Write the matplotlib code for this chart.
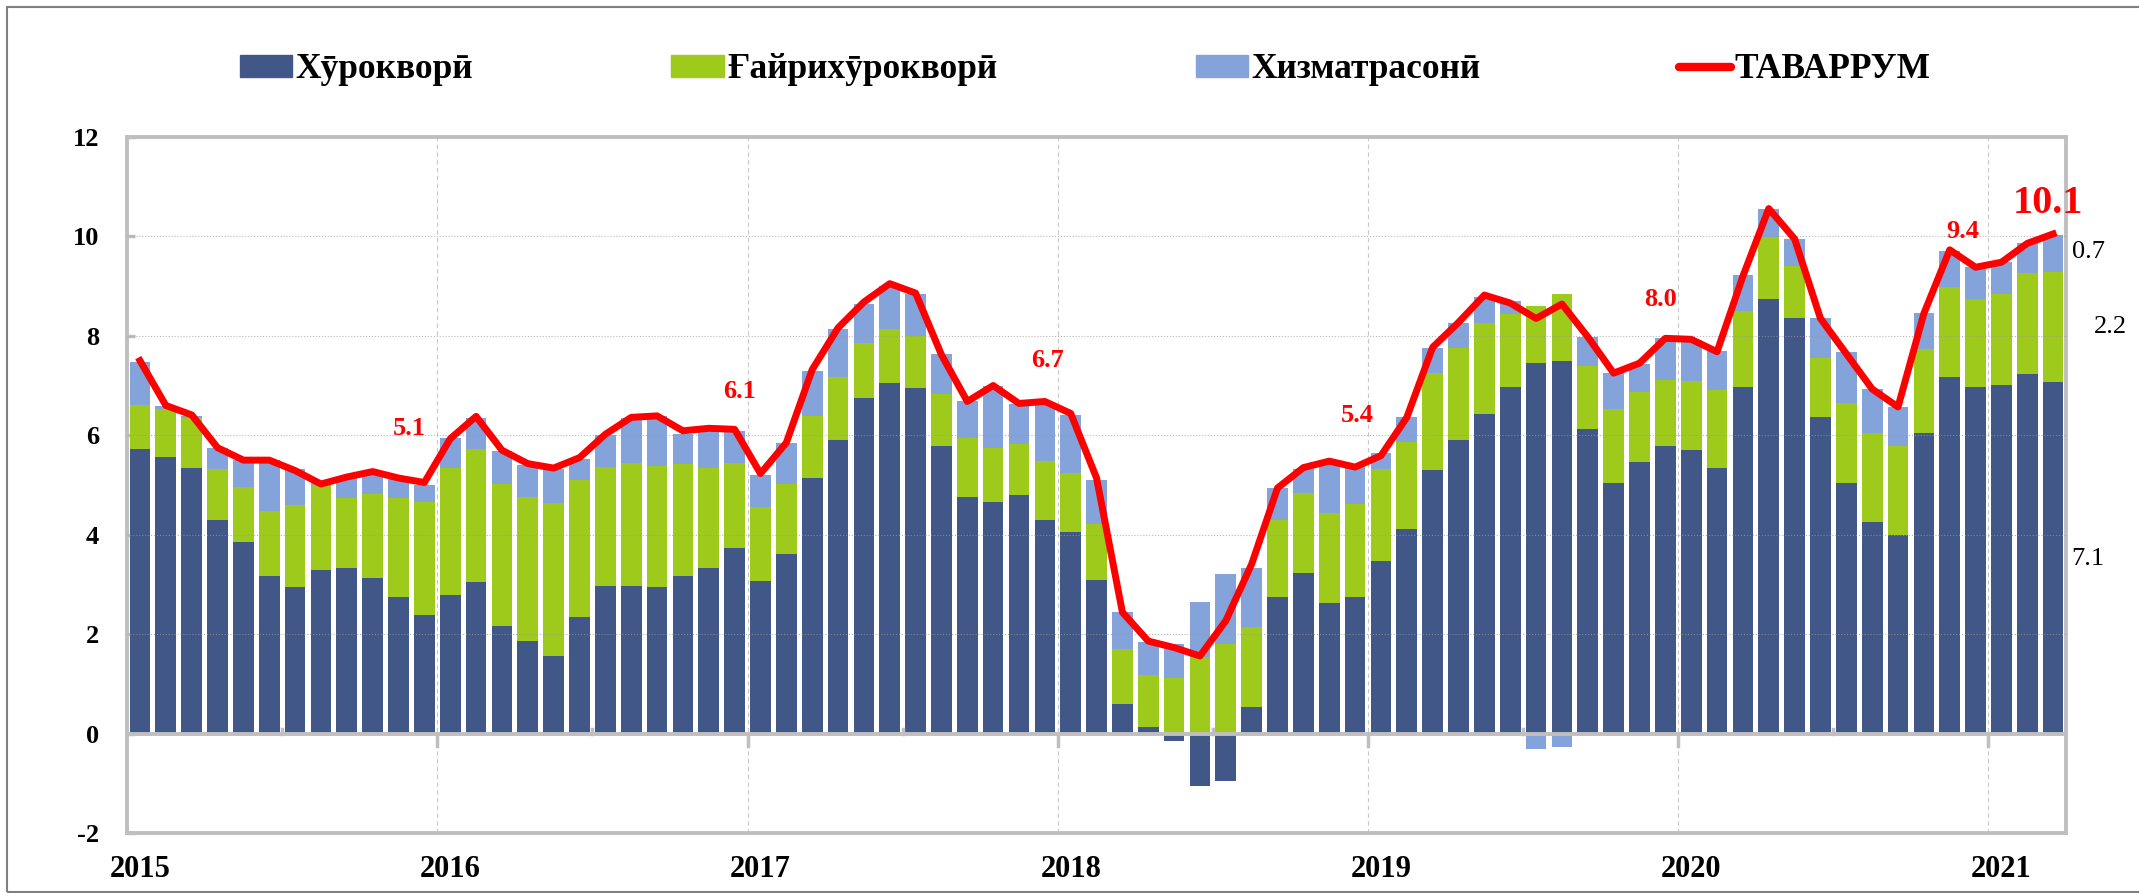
import numpy as np
import matplotlib.pyplot as plt
from matplotlib.patches import Patch, Rectangle
from matplotlib.lines import Line2D

plt.rcParams['font.family'] = ['Liberation Serif', 'DejaVu Serif']
plt.rcParams['axes.unicode_minus'] = False

# monthly data, Jan 2015 - Mar 2021
food = [5.73, 5.56, 5.35, 4.30, 3.85, 3.16, 2.95, 3.29, 3.33, 3.12, 2.75, 2.38,
        2.79, 3.05, 2.17, 1.86, 1.57, 2.34, 2.97, 2.97, 2.95, 3.16, 3.34, 3.74,
        3.07, 3.62, 5.15, 5.91, 6.75, 7.06, 6.95, 5.79, 4.75, 4.66, 4.80, 4.29,
        4.06, 3.08, 0.59, 0.13, -0.14, -1.06, -0.95, 0.53, 2.74, 3.23, 2.63, 2.74,
        3.47, 4.12, 5.30, 5.90, 6.43, 6.97, 7.45, 7.50, 6.12, 5.05, 5.46, 5.79,
        5.71, 5.35, 6.97, 8.74, 8.36, 6.37, 5.03, 4.26, 4.00, 6.05, 7.17, 6.97,
        7.01, 7.24, 7.08]
nonfood = [0.88, 0.96, 1.00, 1.02, 1.10, 1.31, 1.64, 1.71, 1.40, 1.70, 1.98, 2.28,
           2.55, 2.67, 2.85, 2.90, 3.06, 2.77, 2.40, 2.47, 2.44, 2.26, 2.01, 1.71,
           1.48, 1.39, 1.24, 1.27, 1.11, 1.07, 1.05, 1.04, 1.20, 1.09, 1.02, 1.19,
           1.19, 1.14, 1.12, 1.05, 1.12, 1.55, 1.80, 1.62, 1.56, 1.61, 1.80, 1.87,
           1.85, 1.75, 1.95, 1.85, 1.83, 1.47, 1.15, 1.35, 1.28, 1.48, 1.41, 1.32,
           1.38, 1.57, 1.53, 1.24, 1.05, 1.19, 1.62, 1.79, 1.78, 1.68, 1.82, 1.78,
           1.84, 2.03, 2.21]
services = [0.87, 0.07, 0.03, 0.43, 0.55, 1.03, 0.73, 0.05, 0.41, 0.43, 0.41, 0.34,
            0.61, 0.63, 0.66, 0.65, 0.69, 0.42, 0.63, 0.91, 0.99, 0.60, 0.74, 0.64,
            0.66, 0.84, 0.90, 0.95, 0.79, 0.87, 0.85, 0.81, 0.74, 1.25, 0.80, 1.18,
            1.16, 0.88, 0.73, 0.66, 0.68, 1.09, 1.41, 1.19, 0.64, 0.48, 1.07, 0.79,
            0.32, 0.49, 0.50, 0.51, 0.53, 0.27, -0.32, -0.27, 0.57, 0.72, 0.57, 0.84,
            0.82, 0.77, 0.72, 0.57, 0.54, 0.79, 1.02, 0.88, 0.79, 0.72, 0.71, 0.63,
            0.63, 0.59, 0.74]
total = [7.50, 6.60, 6.41, 5.75, 5.50, 5.50, 5.29, 5.02, 5.16, 5.27, 5.14, 5.05,
         5.93, 6.38, 5.70, 5.43, 5.34, 5.55, 6.02, 6.36, 6.39, 6.09, 6.14, 6.12,
         5.23, 5.85, 7.32, 8.16, 8.68, 9.05, 8.86, 7.62, 6.68, 7.00, 6.64, 6.68,
         6.44, 5.14, 2.44, 1.86, 1.73, 1.56, 2.27, 3.41, 4.94, 5.35, 5.48, 5.36,
         5.59, 6.36, 7.77, 8.27, 8.82, 8.66, 8.35, 8.64, 7.98, 7.25, 7.45, 7.95,
         7.93, 7.68, 9.20, 10.56, 9.95, 8.35, 7.64, 6.93, 6.57, 8.45, 9.73, 9.38,
         9.48, 9.86, 10.05]
years = ['2015', '2016', '2017', '2018', '2019', '2020', '2021']

# red labels: (month index, y, text)
dec_labels = [(10.4, 6.14, '5.1'), (23.2, 6.88, '6.1'), (35.1, 7.51, '6.7'),
              (47.1, 6.40, '5.4'), (58.8, 8.73, '8.0'), (70.5, 10.10, '9.4')]
last_parts = [(9.68, '0.7'), (8.17, '2.2'), (3.52, '7.1')]

names = ['Хӯрокворӣ', 'Ғайрихӯрокворӣ', 'Хизматрасонӣ', 'ТАВАРРУМ']
colors = ['#405787', '#9ECA1C', '#84A3DB']
grey = '#BFBFBF'

n = len(food)
x = np.arange(n)

fig = plt.figure(figsize=(21.39, 8.93), dpi=100)
ax = fig.add_axes([0.0594, 0.0672, 0.9065, 0.7794])

# stacked bars, negatives stacked below zero like excel
pos = np.zeros(n)
neg = np.zeros(n)
for vals, c in zip([food, nonfood, services], colors):
    v = np.array(vals)
    bottom = np.where(v >= 0, pos, neg)
    ax.bar(x, v, bottom=bottom, width=0.8, color=c, zorder=2, linewidth=0)
    pos = pos + np.where(v >= 0, v, 0)
    neg = neg + np.where(v < 0, v, 0)

ax.plot(x, total, color='#FF0000', lw=5, zorder=5, solid_joinstyle='round')

ax.set_xlim(-0.5, n - 0.5)
ax.set_ylim(-2, 12)
ax.set_yticks(range(-2, 13, 2))
ax.set_xticks(range(0, n, 12))
ax.set_xticklabels(years)

for sp in ax.spines.values():
    sp.set_color(grey)
    sp.set_linewidth(2.8)

ax.tick_params(axis='y', direction='in', length=6, width=2.5, color=grey,
               labelsize=19, pad=20)
ax.tick_params(axis='x', length=0, labelsize=22, pad=16)
for lab in ax.get_xticklabels() + ax.get_yticklabels():
    lab.set_fontweight('bold')

# grid lines
for yv in range(-2, 13, 2):
    if yv not in (-2, 0, 12):
        ax.axhline(yv, color='#9A9A9A', lw=0.8, ls=':', zorder=3, alpha=0.7)
for b in range(12, n, 12):
    ax.axvline(b - 0.5, color='#C8C8C8', lw=0.8, ls=(0, (4, 3)), zorder=1)

# zero axis line with ticks
ax.axhline(0, color=grey, lw=2.8, zorder=4)
for b in range(12, n, 12):
    ax.plot([b - 0.5, b - 0.5], [0, -0.25], color=grey, lw=2.5, zorder=4)
for b in range(6, n, 12):
    ax.plot([b - 0.5, b - 0.5], [0, 0.1], color=grey, lw=2.5, zorder=4)

# labels
for xi, yi, t in dec_labels:
    ax.text(xi, yi, t, color='#FF0000', fontsize=19, fontweight='bold',
            ha='center', va='center', zorder=6)
ax.text(73.8, 10.66, '10.1', color='#FF0000', fontsize=29, fontweight='bold',
        ha='center', va='center', zorder=6, clip_on=False)
ax.text(75.35, last_parts[0][0], last_parts[0][1], fontsize=19, ha='center', va='center', clip_on=False)
ax.text(76.2, last_parts[1][0], last_parts[1][1], fontsize=19, ha='center', va='center', clip_on=False)
ax.text(75.35, last_parts[2][0], last_parts[2][1], fontsize=19, ha='center', va='center', clip_on=False)

# legend
handles = [Patch(color=c) for c in colors]
handles.append(Line2D([0], [0], color='#FF0000', lw=6, solid_capstyle='round'))
fig.legend(handles, names, loc='center left', bbox_to_anchor=(240 / 2139, 1 - 70 / 893),
           ncol=4, frameon=False, prop={'size': 25.5, 'weight': 'bold'},
           handlelength=1.47, handleheight=0.57, handletextpad=0.1,
           columnspacing=5.6, borderpad=0, borderaxespad=0)

# outer border
fig.patches.append(Rectangle((7 / 2139, 1 / 893), 1.0, 1 - 8 / 893, transform=fig.transFigure,
                             fill=False, edgecolor='#7F7F7F', lw=1.5))

fig.savefig('out.png', dpi=100)
